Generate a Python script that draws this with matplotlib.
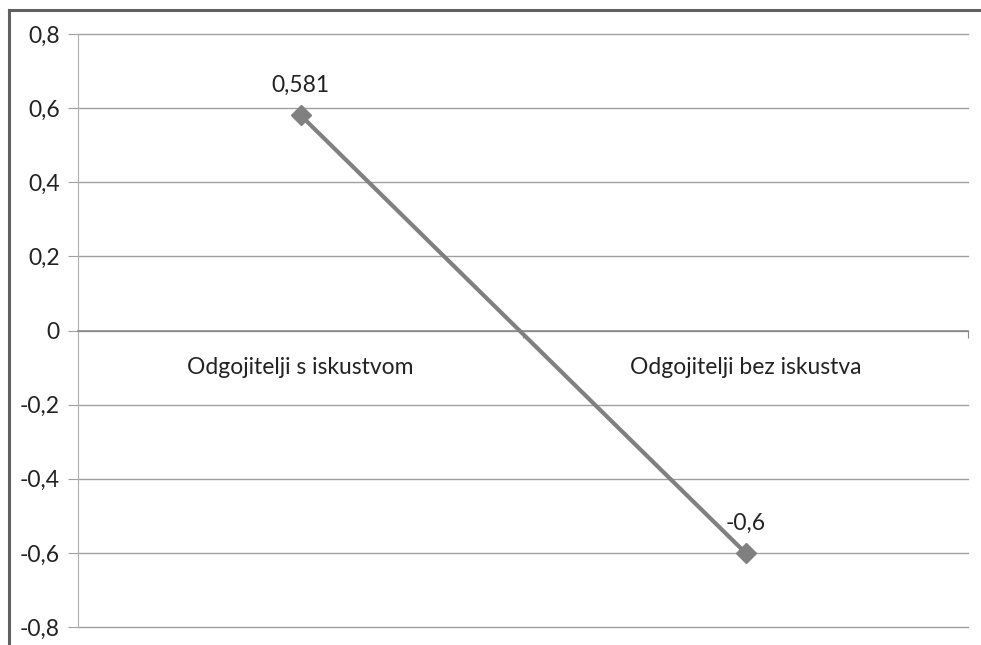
import numpy as np
import matplotlib.pyplot as plt
from matplotlib.lines import Line2D

# data
categories = ["Odgojitelji s iskustvom", "Odgojitelji bez iskustva"]
values = [0.581, -0.6]
value_labels = ["0,581", "-0,6"]
yticks = [-0.8, -0.6, -0.4, -0.2, 0.0, 0.2, 0.4, 0.6, 0.8]
ytick_labels = ["-0,8", "-0,6", "-0,4", "-0,2", "0", "0,2", "0,4", "0,6", "0,8"]

plt.rcParams['font.family'] = ['Lato', 'DejaVu Sans']
fs = 16.5

fig = plt.figure(figsize=(9.81, 6.45), dpi=100)
ax = fig.add_axes([78 / 981, 1 - 627 / 645, (968 - 78) / 981, (627 - 34) / 645])

x = np.arange(len(categories))
ax.plot(x, values, color='#808080', lw=3, marker='D', markersize=10,
        markerfacecolor='#808080', markeredgecolor='#808080', zorder=5, clip_on=False)

for xi, v, lab in zip(x, values, value_labels):
    ax.annotate(lab, (xi, v), xytext=(0, 14), textcoords='offset points',
                ha='center', va='bottom', fontsize=fs, color='#222222')

for xi, cat in zip(x, categories):
    ax.text(xi, -0.1, cat, ha='center', va='center', fontsize=fs, color='#222222')

ax.set_xlim(-0.5, 1.5)
ax.set_ylim(-0.8, 0.8)
ax.set_yticks(yticks)
ax.set_yticklabels(ytick_labels, fontsize=fs, color='#222222')
ax.yaxis.grid(True, color='#a0a0a0', lw=1)
for gl in ax.get_ygridlines():
    gl.set_clip_on(False)
ax.set_axisbelow(True)

ax.set_xticks([0.5, 1.5])
ax.set_xticklabels([])
ax.spines['bottom'].set_position(('data', 0))
ax.spines['bottom'].set_color('#888888')
ax.spines['bottom'].set_linewidth(1.2)
ax.tick_params(axis='x', direction='out', length=5, color='#888888')
ax.spines['left'].set_color('#b0b0b0')
ax.spines['right'].set_visible(False)
ax.spines['top'].set_visible(False)
ax.tick_params(axis='y', direction='out', length=7, color='#a0a0a0', pad=6)

# outer frame (cropped on the right and bottom)
fig.add_artist(Line2D([9 / 981, 9 / 981], [0, 1 - 10 / 645], color='#606060', lw=2.2))
fig.add_artist(Line2D([9 / 981, 1], [1 - 10 / 645, 1 - 10 / 645], color='#606060', lw=2.2))

fig.savefig("out.png", dpi=100)
